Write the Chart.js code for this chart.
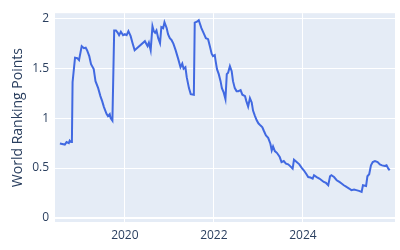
<!DOCTYPE html>
<html>
<head>
<meta charset="utf-8">
<script src="https://cdn.jsdelivr.net/npm/chart.js@4/dist/chart.umd.min.js"></script>
<style>
  html, body { margin: 0; padding: 0; background: #fff; }
  #wrap { width: 400px; height: 250px; position: relative; }
</style>
</head>
<body>
<div id="wrap"><canvas id="rankChart"></canvas></div>
<script>
// Dates as decimal years
const years = [
  2018.54, 2018.65, 2018.69, 2018.74, 2018.76, 2018.79, 2018.81, 2018.825, 2018.88, 2018.93,
  2018.97, 2019.03, 2019.08, 2019.12, 2019.15, 2019.20, 2019.24, 2019.30, 2019.34, 2019.40,
  2019.45, 2019.49, 2019.53, 2019.59, 2019.62, 2019.66, 2019.68, 2019.72, 2019.76, 2019.80,
  2019.84, 2019.87, 2019.91, 2019.96, 2020.00, 2020.04, 2020.08, 2020.13, 2020.17, 2020.22,
  2020.45, 2020.51, 2020.54, 2020.58, 2020.62, 2020.65, 2020.68, 2020.71, 2020.75, 2020.79,
  2020.82, 2020.86, 2020.89, 2020.94, 2020.97, 2021.01, 2021.05, 2021.09, 2021.14, 2021.20,
  2021.25, 2021.29, 2021.32, 2021.36, 2021.39, 2021.44, 2021.48, 2021.55, 2021.57, 2021.62,
  2021.66, 2021.72, 2021.78, 2021.82, 2021.87, 2021.91, 2021.95, 2021.98, 2022.02, 2022.04,
  2022.07, 2022.11, 2022.15, 2022.18, 2022.22, 2022.26, 2022.29, 2022.32, 2022.36, 2022.40,
  2022.43, 2022.47, 2022.51, 2022.55, 2022.60, 2022.64, 2022.70, 2022.73, 2022.77, 2022.81,
  2022.85, 2022.88, 2022.92, 2022.96, 2023.00, 2023.05, 2023.09, 2023.12, 2023.17, 2023.22,
  2023.27, 2023.30, 2023.33, 2023.37, 2023.42, 2023.48, 2023.52, 2023.57, 2023.62, 2023.67,
  2023.72, 2023.77, 2023.80, 2023.86, 2023.92, 2023.97, 2024.02, 2024.07, 2024.12, 2024.17,
  2024.22, 2024.25, 2024.31, 2024.37, 2024.42, 2024.47, 2024.52, 2024.57, 2024.61, 2024.64,
  2024.70, 2024.76, 2024.82, 2024.87, 2024.92, 2024.98, 2025.04, 2025.09, 2025.15, 2025.20,
  2025.26, 2025.32, 2025.35, 2025.42, 2025.45, 2025.49, 2025.53, 2025.57, 2025.62, 2025.68,
  2025.73, 2025.78, 2025.84, 2025.88, 2025.92, 2025.95
];
const points = [
  0.745, 0.735, 0.76, 0.75, 0.775, 0.76, 0.775, 1.36, 1.605, 1.60,
  1.58, 1.72, 1.70, 1.705, 1.68, 1.62, 1.54, 1.49, 1.37, 1.30,
  1.22, 1.17, 1.11, 1.04, 1.02, 1.04, 1.00, 0.975, 1.877, 1.877,
  1.854, 1.83, 1.865, 1.83, 1.84, 1.83, 1.87, 1.82, 1.755, 1.68,
  1.77, 1.72, 1.755, 1.68, 1.92, 1.87, 1.854, 1.877, 1.80, 1.75,
  1.91, 1.90, 1.96, 1.90, 1.84, 1.80, 1.78, 1.745, 1.68, 1.59,
  1.51, 1.545, 1.495, 1.51, 1.41, 1.30, 1.24, 1.234, 1.955, 1.965,
  1.98, 1.90, 1.84, 1.80, 1.79, 1.72, 1.645, 1.62, 1.63, 1.57,
  1.49, 1.44, 1.37, 1.30, 1.257, 1.19, 1.44, 1.455, 1.52, 1.47,
  1.37, 1.30, 1.27, 1.27, 1.28, 1.234, 1.22, 1.17, 1.115, 1.20,
  1.157, 1.075, 1.025, 0.98, 0.948, 0.925, 0.908, 0.876, 0.826, 0.803,
  0.743, 0.677, 0.716, 0.67, 0.65, 0.61, 0.56, 0.57, 0.544, 0.537,
  0.517, 0.494, 0.584, 0.56, 0.537, 0.504, 0.478, 0.445, 0.41, 0.405,
  0.395, 0.428, 0.41, 0.395, 0.378, 0.361, 0.351, 0.328, 0.418, 0.428,
  0.41, 0.378, 0.361, 0.345, 0.328, 0.311, 0.295, 0.279, 0.285, 0.279,
  0.272, 0.262, 0.328, 0.321, 0.418, 0.438, 0.527, 0.56, 0.57, 0.56,
  0.537, 0.527, 0.52, 0.527, 0.494, 0.478
];
const xTicks = [2020, 2022, 2024];
const yTicks = [0, 0.5, 1, 1.5, 2];

const fontFamily = '"Open Sans", "DejaVu Sans", sans-serif';
const textColor = '#2a3f5f';

// paint the plot area background like plotly
const plotBg = {
  id: 'plotBg',
  beforeDraw(chart) {
    const a = chart.chartArea;
    const ctx = chart.ctx;
    ctx.save();
    ctx.fillStyle = '#e5ecf6';
    ctx.fillRect(a.left, a.top, a.right - a.left, a.bottom - a.top);
    ctx.restore();
  }
};

new Chart(document.getElementById('rankChart'), {
  type: 'line',
  data: {
    datasets: [{
      data: years.map((y, i) => ({ x: y, y: points[i] })),
      borderColor: '#4169e1',
      borderWidth: 2,
      pointRadius: 0,
      tension: 0,
      fill: false
    }]
  },
  options: {
    responsive: true,
    maintainAspectRatio: false,
    animation: false,
    layout: { padding: { top: 12, right: 5, left: 0, bottom: 0 } },
    plugins: { legend: { display: false }, tooltip: { enabled: false } },
    scales: {
      x: {
        type: 'linear',
        min: 2018.43,
        max: 2026.07,
        afterBuildTicks: axis => { axis.ticks = xTicks.map(v => ({ value: v })); },
        afterFit: axis => { axis.height = 28; },
        grid: { color: '#ffffff', lineWidth: 1, drawTicks: false },
        border: { display: false },
        ticks: {
          color: textColor,
          font: { family: fontFamily, size: 12 },
          padding: 6,
          maxRotation: 0,
          callback: v => String(v)
        }
      },
      y: {
        min: -0.04,
        max: 2.05,
        afterBuildTicks: axis => { axis.ticks = yTicks.map(v => ({ value: v })); },
        afterFit: axis => { axis.width = 55; },
        grid: {
          color: '#ffffff',
          lineWidth: ctx => (ctx.tick && ctx.tick.value === 0 ? 2 : 1),
          drawTicks: false
        },
        border: { display: false },
        ticks: {
          color: textColor,
          font: { family: fontFamily, size: 12 },
          padding: 6,
          callback: v => String(v)
        },
        title: {
          display: true,
          text: 'World Ranking Points',
          color: textColor,
          font: { family: fontFamily, size: 14 },
          padding: { top: 10, bottom: 0 }
        }
      }
    }
  },
  plugins: [plotBg]
});
</script>
</body>
</html>
